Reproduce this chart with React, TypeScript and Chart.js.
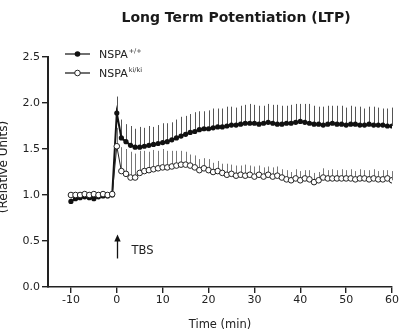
import React, { useEffect, useRef } from "react";
import { Chart, registerables } from "chart.js";

Chart.register(...registerables);

const times = [
  -10, -9, -8, -7, -6, -5, -4, -3, -2, -1,
  0,
  1, 2, 3, 4, 5, 6, 7, 8, 9, 10,
  11, 12, 13, 14, 15, 16, 17, 18, 19, 20,
  21, 22, 23, 24, 25, 26, 27, 28, 29, 30,
  31, 32, 33, 34, 35, 36, 37, 38, 39, 40,
  41, 42, 43, 44, 45, 46, 47, 48, 49, 50,
  51, 52, 53, 54, 55, 56, 57, 58, 59, 60,
];

const wtMean = [
  0.93, 0.96, 0.97, 0.98, 0.97, 0.96, 0.98, 0.99, 0.99, 1.0,
  1.89,
  1.62, 1.58, 1.54, 1.52, 1.52, 1.53, 1.54, 1.55, 1.56, 1.57,
  1.58, 1.6, 1.62, 1.64, 1.66, 1.68, 1.69, 1.71, 1.72, 1.72,
  1.73, 1.74, 1.74, 1.75, 1.76, 1.76, 1.77, 1.78, 1.78, 1.78,
  1.77, 1.78, 1.79, 1.78, 1.77, 1.77, 1.78, 1.78, 1.79, 1.8,
  1.79, 1.78, 1.77, 1.77, 1.76, 1.77, 1.78, 1.77, 1.77, 1.76,
  1.77, 1.77, 1.76, 1.76, 1.77, 1.76, 1.76, 1.76, 1.75, 1.75,
];

const wtErr = [
  0.03, 0.03, 0.03, 0.02, 0.03, 0.03, 0.02, 0.03, 0.02, 0.03,
  0.18,
  0.2, 0.19, 0.21, 0.2, 0.22, 0.2, 0.21, 0.19, 0.2, 0.21,
  0.2, 0.19, 0.2, 0.21, 0.2, 0.2, 0.21, 0.2, 0.19, 0.2,
  0.21, 0.2, 0.2, 0.21, 0.2, 0.19, 0.2, 0.2, 0.21, 0.2,
  0.2, 0.19, 0.2, 0.2, 0.21, 0.2, 0.19, 0.2, 0.2, 0.19,
  0.2, 0.21, 0.2, 0.19, 0.2, 0.2, 0.19, 0.2, 0.2, 0.19,
  0.2, 0.19, 0.2, 0.18, 0.19, 0.2, 0.19, 0.18, 0.19, 0.2,
];

const kiMean = [
  1.0, 1.0, 1.0, 1.01, 1.0, 1.01, 1.0, 1.01, 1.0, 1.01,
  1.53,
  1.26, 1.23, 1.19, 1.19, 1.24, 1.26, 1.27, 1.28, 1.29, 1.3,
  1.3, 1.31, 1.32, 1.33, 1.33, 1.32, 1.3, 1.27, 1.29, 1.27,
  1.25, 1.26, 1.24, 1.22, 1.23, 1.21, 1.22, 1.21, 1.22, 1.2,
  1.22, 1.2, 1.22, 1.2, 1.21, 1.19, 1.17, 1.16, 1.18, 1.16,
  1.18, 1.17, 1.14, 1.16, 1.19, 1.18, 1.18, 1.18, 1.18, 1.18,
  1.18, 1.17, 1.18, 1.18, 1.17, 1.18, 1.17, 1.17, 1.18, 1.16,
];

const kiErr = [
  0.03, 0.02, 0.03, 0.02, 0.03, 0.02, 0.03, 0.02, 0.03, 0.02,
  0.2,
  0.26, 0.27, 0.28, 0.26, 0.24, 0.22, 0.2, 0.21, 0.19, 0.2,
  0.18, 0.17, 0.16, 0.15, 0.14, 0.12, 0.13, 0.12, 0.11, 0.12,
  0.1, 0.11, 0.1, 0.12, 0.1, 0.11, 0.1, 0.12, 0.1, 0.11,
  0.1, 0.1, 0.09, 0.1, 0.1, 0.09, 0.1, 0.09, 0.1, 0.1,
  0.09, 0.1, 0.1, 0.09, 0.1, 0.09, 0.1, 0.09, 0.1, 0.09,
  0.1, 0.09, 0.1, 0.09, 0.1, 0.1, 0.09, 0.1, 0.09, 0.1,
];

const xTicks = [-10, 0, 10, 20, 30, 40, 50, 60];
const yTicks = [0, 0.5, 1.0, 1.5, 2.0, 2.5];

const titleText = "Long Term Potentiation (LTP)";
const xTitle = "Time (min)";
const yTitle = "(Relative Units)";
const seriesNames = ["NSPA", "NSPA"];
const seriesSup = ["+/+", "ki/ki"];
const tbsLabel = "TBS";

const FONT = "'DejaVu Sans', Arial, Helvetica, sans-serif";
const INK = "#222";

const errorBarsPlugin = {
  id: "errorBars",
  beforeDatasetsDraw(chart: any) {
    const { ctx } = chart;
    const x = chart.scales.x;
    const y = chart.scales.y;
    ctx.save();
    ctx.lineWidth = 1;
    const sets: [number[], number[], string][] = [
      [wtMean, wtErr, "#555"],
      [kiMean, kiErr, "#777"],
    ];
    sets.forEach(([m, e, c]) => {
      ctx.strokeStyle = c;
      times.forEach((t, i) => {
        const px = Math.round(x.getPixelForValue(t)) + 0.5;
        ctx.beginPath();
        ctx.moveTo(px, y.getPixelForValue(m[i]));
        ctx.lineTo(px, y.getPixelForValue(m[i] + e[i]));
        ctx.stroke();
      });
    });
    ctx.restore();
  },
};

const overlayPlugin = {
  id: "overlay",
  afterDraw(chart: any) {
    const { ctx, chartArea } = chart;
    const x = chart.scales.x;
    const y = chart.scales.y;
    ctx.save();

    // title
    ctx.fillStyle = "#1a1a1a";
    ctx.font = `bold 14px ${FONT}`;
    ctx.textAlign = "center";
    ctx.textBaseline = "middle";
    ctx.fillText(titleText, (chartArea.left + chartArea.right) / 2 + 16, 18);

    // y axis title
    ctx.save();
    ctx.translate(4, (chartArea.top + chartArea.bottom) / 2 - 5);
    ctx.rotate(-Math.PI / 2);
    ctx.font = `12px ${FONT}`;
    ctx.fillStyle = INK;
    ctx.textAlign = "center";
    ctx.textBaseline = "middle";
    ctx.fillText(yTitle, 0, 0);
    ctx.restore();

    // legend
    const lx0 = chartArea.left + 17;
    const lx1 = chartArea.left + 42;
    const lmid = (lx0 + lx1) / 2;
    const rows = [chartArea.top - 3, chartArea.top + 16];
    rows.forEach((ry, i) => {
      ctx.strokeStyle = "#222";
      ctx.lineWidth = 1.3;
      ctx.beginPath();
      ctx.moveTo(lx0, ry);
      ctx.lineTo(lx1, ry);
      ctx.stroke();
      ctx.beginPath();
      ctx.arc(lmid, ry, 2.8, 0, Math.PI * 2);
      if (i === 0) {
        ctx.fillStyle = "#111";
        ctx.fill();
      } else {
        ctx.fillStyle = "#fff";
        ctx.fill();
        ctx.lineWidth = 1;
        ctx.stroke();
      }
      ctx.fillStyle = INK;
      ctx.font = `11px ${FONT}`;
      ctx.textAlign = "left";
      ctx.textBaseline = "middle";
      const tx = chartArea.left + 51;
      ctx.fillText(seriesNames[i], tx, ry + 1);
      const w = ctx.measureText(seriesNames[i]).width;
      ctx.font = `6.5px ${FONT}`;
      ctx.fillText(seriesSup[i], tx + w + 1, ry - 3);
    });

    // TBS arrow
    const ax = Math.round(x.getPixelForValue(0)) + 0.5;
    const ayTop = y.getPixelForValue(0.57);
    const ayBot = y.getPixelForValue(0.31);
    ctx.strokeStyle = "#111";
    ctx.fillStyle = "#111";
    ctx.lineWidth = 1.3;
    ctx.beginPath();
    ctx.moveTo(ax, ayTop + 4);
    ctx.lineTo(ax, ayBot);
    ctx.stroke();
    ctx.beginPath();
    ctx.moveTo(ax, ayTop);
    ctx.lineTo(ax - 3.2, ayTop + 7);
    ctx.lineTo(ax + 3.2, ayTop + 7);
    ctx.closePath();
    ctx.fill();
    ctx.fillStyle = INK;
    ctx.font = `11.5px ${FONT}`;
    ctx.textAlign = "left";
    ctx.textBaseline = "middle";
    ctx.fillText(tbsLabel, ax + 14, y.getPixelForValue(0.39));

    ctx.restore();
  },
};

export default function App() {
  const ref = useRef<HTMLCanvasElement | null>(null);

  useEffect(() => {
    if (!ref.current) return;
    const chart = new Chart(ref.current, {
      type: "line",
      data: {
        datasets: [
          {
            label: seriesNames[1] + seriesSup[1],
            data: times.map((t, i) => ({ x: t, y: kiMean[i] })),
            borderColor: "#222",
            borderWidth: 1,
            pointRadius: 2.8,
            pointBackgroundColor: "#fff",
            pointBorderColor: "#222",
            pointBorderWidth: 1,
            tension: 0,
            order: 0,
          },
          {
            label: seriesNames[0] + seriesSup[0],
            data: times.map((t, i) => ({ x: t, y: wtMean[i] })),
            borderColor: "#111",
            borderWidth: 2,
            pointRadius: 2.6,
            pointBackgroundColor: "#111",
            pointBorderColor: "#111",
            pointBorderWidth: 0,
            tension: 0,
            order: 1,
          },
        ],
      },
      options: {
        responsive: true,
        maintainAspectRatio: false,
        animation: false,
        layout: { padding: { top: 57, right: 19, bottom: 0, left: 0 } },
        plugins: {
          legend: { display: false },
          title: { display: false },
          tooltip: { enabled: false },
        },
        scales: {
          x: {
            type: "linear",
            min: -15,
            max: 60,
            afterBuildTicks: (axis: any) => {
              axis.ticks = xTicks.map((v) => ({ value: v }));
            },
            afterFit: (axis: any) => {
              axis.height = 45;
            },
            border: { display: true, color: "#222", width: 1.6 },
            grid: {
              drawOnChartArea: false,
              drawTicks: true,
              tickLength: 6,
              color: "#222",
              lineWidth: 1.4,
            },
            ticks: {
              padding: 1,
              color: INK,
              font: { family: FONT, size: 11 },
              maxRotation: 0,
              autoSkip: false,
              callback: (v: any) => String(v),
            },
            title: {
              display: true,
              text: xTitle,
              color: INK,
              font: { family: FONT, size: 11.5 },
              padding: { top: 1, bottom: 0 },
            },
          },
          y: {
            type: "linear",
            min: 0,
            max: 2.5,
            afterBuildTicks: (axis: any) => {
              axis.ticks = yTicks.map((v) => ({ value: v }));
            },
            afterFit: (axis: any) => {
              axis.width = 48;
            },
            border: { display: true, color: "#222", width: 2 },
            grid: {
              drawOnChartArea: false,
              drawTicks: true,
              tickLength: 6,
              color: "#222",
              lineWidth: 1.4,
            },
            ticks: {
              padding: 2,
              color: INK,
              font: { family: FONT, size: 11 },
              callback: (v: any) => Number(v).toFixed(1),
            },
          },
        },
      },
      plugins: [errorBarsPlugin, overlayPlugin],
    });
    return () => chart.destroy();
  }, []);

  return (
    <div style={{ position: "fixed", left: 0, top: 0, width: 411, height: 332, background: "#fff" }}>
      <canvas ref={ref} />
    </div>
  );
}
